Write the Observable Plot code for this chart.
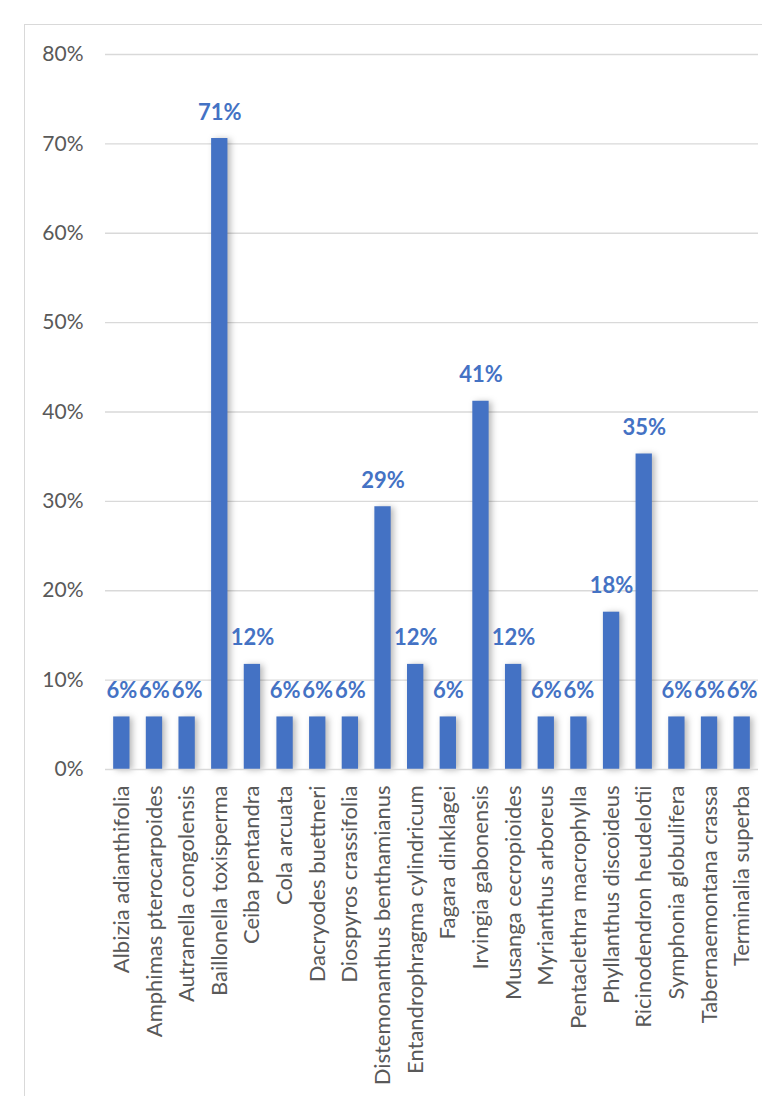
<!DOCTYPE html>
<html>
<head>
<meta charset="utf-8">
<script src="https://cdn.jsdelivr.net/npm/d3@7"></script>
<script src="https://cdn.jsdelivr.net/npm/@observablehq/plot@0.6"></script>
<style>
  html, body { margin: 0; padding: 0; background: #fff; }
  #wrap { position: relative; width: 762px; height: 1096px; overflow: hidden; }
  #border { position: absolute; left: 24px; top: 24px; width: 800px; height: 1200px;
            border: 1.5px solid #d9d9d9; box-sizing: border-box; pointer-events: none; }
  #chart { position: absolute; left: 0; top: 0; }
  #chart g[aria-label="bar"] rect { filter: drop-shadow(3px 1px 3px rgba(0,0,0,0.28)); }
</style>
</head>
<body>
<div id="wrap">
  <div id="chart"></div>
  <div id="border"></div>
</div>
<script>
const species = [
  "Albizia adianthifolia", "Amphimas pterocarpoides", "Autranella congolensis",
  "Baillonella toxisperma", "Ceiba pentandra", "Cola arcuata", "Dacryodes buettneri",
  "Diospyros crassifolia", "Distemonanthus benthamianus", "Entandrophragma cylindricum",
  "Fagara dinklagei", "Irvingia gabonensis", "Musanga cecropioides", "Myrianthus arboreus",
  "Pentaclethra macrophylla", "Phyllanthus discoideus", "Ricinodendron heudelotii",
  "Symphonia globulifera", "Tabernaemontana crassa", "Terminalia superba"
];
const shares = [
  0.0588, 0.0588, 0.0588, 0.706, 0.1176, 0.0588, 0.0588, 0.0588, 0.294, 0.1176,
  0.0588, 0.412, 0.1176, 0.0588, 0.0588, 0.176, 0.353, 0.0588, 0.0588, 0.0588
];
const yTicks = [0, 0.1, 0.2, 0.3, 0.4, 0.5, 0.6, 0.7, 0.8];

const data = species.map((s, i) => ({species: s, share: shares[i]}));
const pct = d3.format(".0%");
const font = "Lato, 'Open Sans', sans-serif";

const chart = Plot.plot({
  width: 762,
  height: 1096,
  marginLeft: 105,
  marginRight: 4,
  marginTop: 54,
  marginBottom: 327,
  style: {fontFamily: font, background: "transparent"},
  x: {domain: species, paddingInner: 0.5, paddingOuter: 0.25, round: false, label: null},
  y: {domain: [0, 0.8], label: null},
  marks: [
    Plot.ruleY(yTicks.filter(d => d > 0), {stroke: "#d9d9d9", strokeWidth: 1.3}),
    Plot.barY(data, {x: "species", y: "share", fill: "#4472C4"}),
    Plot.ruleY([0], {stroke: "#d9d9d9", strokeWidth: 1.5}),
    Plot.axisY({ticks: yTicks, tickFormat: pct, tickSize: 0, tickPadding: 22,
      fontSize: 21, fill: "#595959", label: null}),
    Plot.axisX({tickSize: 0, tickRotate: -90, tickPadding: 16, fontSize: 22,
      fill: "#595959", label: null}),
    Plot.text(data, {x: "species", y: "share", text: d => pct(d.share),
      fill: "#4472C4", fontWeight: "bold", fontSize: 22, lineAnchor: "bottom", dy: -19})
  ]
});
document.getElementById("chart").appendChild(chart);
</script>
</body>
</html>
